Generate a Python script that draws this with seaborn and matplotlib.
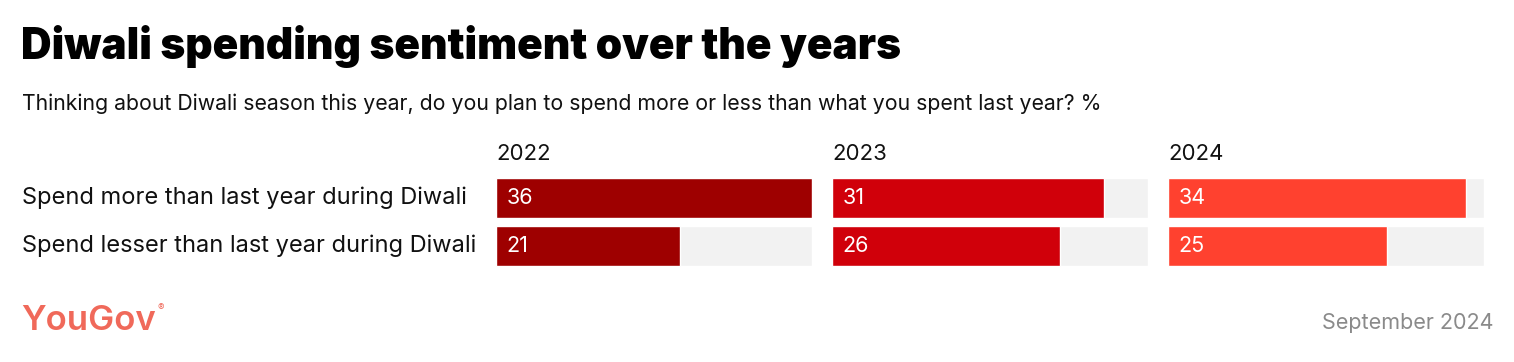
import matplotlib
matplotlib.use("Agg")
import matplotlib.pyplot as plt
import matplotlib.transforms as mtransforms
import seaborn as sns
import pandas as pd

# ---- data ----
categories = ["Spend more than last year during Diwali",
              "Spend lesser than last year during Diwali"]
years = ["2022", "2023", "2024"]
values_2022 = [36, 21]
values_2023 = [31, 26]
values_2024 = [34, 25]
year_colors = ["#9e0000", "#d0000a", "#ff412f"]
max_value = 36

title = "Diwali spending sentiment over the years"
subtitle = "Thinking about Diwali season this year, do you plan to spend more or less than what you spent last year? %"
source = "September 2024"
brand = "YouGov"

sns.set_theme(style="white")
plt.rcParams["font.family"] = ["Inter", "DejaVu Sans"]

W, H = 1514, 362
fig = plt.figure(figsize=(W / 100, H / 100), dpi=100)
fig.patch.set_facecolor("white")

def fx(px):
    return px / W

def fy(py):
    return 1 - py / H

series = [values_2022, values_2023, values_2024]
panel_left = [496, 832, 1168]
panel_w = 316
ax_top, ax_bot = 174, 270
ax_h = ax_bot - ax_top

axes = []
for i, (yr, vals, col) in enumerate(zip(years, series, year_colors)):
    ax = fig.add_axes([fx(panel_left[i]), fy(ax_bot), fx(panel_w), ax_h / H])
    df = pd.DataFrame({"cat": categories, "val": vals, "bg": [max_value] * len(categories)})
    sns.barplot(data=df, y="cat", x="bg", color="#f2f2f2", width=40 / 48, ax=ax,
                orient="h", saturation=1)
    sns.barplot(data=df, y="cat", x="val", color=col, width=40 / 48, ax=ax,
                orient="h", saturation=1)
    ax.set_xlim(0, max_value)
    ax.set_ylim(1.5, -0.5)
    ax.set_xlabel("")
    ax.set_ylabel("")
    ax.set_xticks([])
    ax.set_yticks([])
    for s in ax.spines.values():
        s.set_visible(False)
    ax.patch.set_alpha(0)
    for j, v in enumerate(vals):
        ax.annotate(str(v), xy=(0, j), xycoords="data", xytext=(7.5, 0),
                    textcoords="offset points", color="white", fontsize=15.5,
                    va="center", ha="left", annotation_clip=False)
    ax.text(0.0, 1 + 10 / ax_h, yr, transform=ax.transAxes,
            fontsize=16, va="bottom", ha="left", color="#111111")
    axes.append(ax)

# category labels
label_tf = mtransforms.blended_transform_factory(fig.transFigure, axes[0].transData)
for j, c in enumerate(categories):
    axes[0].text(fx(22), j, c, transform=label_tf,
                 fontsize=17, va="center", ha="left", color="#111111", clip_on=False)

fig.text(fx(21), fy(46), title, fontsize=30.5, fontweight="black", color="black",
         va="center", ha="left")
fig.text(fx(22), fy(104), subtitle, fontsize=15.3, color="#111111", va="center", ha="left")

fig.text(fx(21), fy(321), brand, fontsize=25, fontweight="semibold", color="#f0695a",
         va="center", ha="left")
fig.text(fx(157), fy(308), "®", fontsize=7, color="#f0695a", va="center", ha="left")
fig.text(fx(1494), fy(323), source, fontsize=15.5, color="#8a8a8a", va="center", ha="right")

fig.savefig("out.png", dpi=100, facecolor="white")
